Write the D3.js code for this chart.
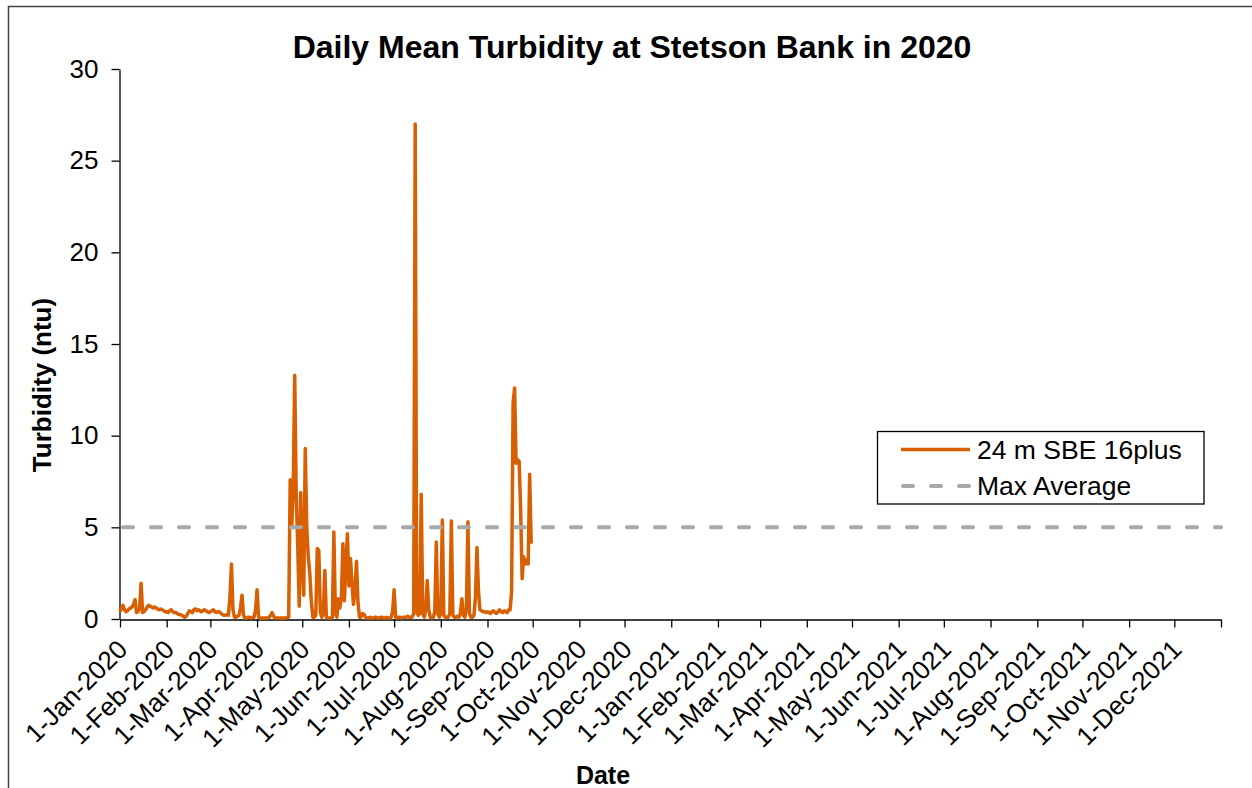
<!DOCTYPE html>
<html>
<head>
<meta charset="utf-8">
<script src="https://cdn.jsdelivr.net/npm/d3@7"></script>
<style>
  html, body { margin: 0; padding: 0; background: #ffffff; }
  svg { display: block; font-family: "Liberation Sans", Arial, sans-serif; }
</style>
</head>
<body>
<script>
// ---------------- DATA ----------------
const chartTitle = "Daily Mean Turbidity at Stetson Bank in 2020";
const yTitle = "Turbidity (ntu)";
const xTitle = "Date";
const seriesNames = ["24 m SBE 16plus", "Max Average"];
const seriesStart = "2020-01-01"; // first daily value
// Daily mean turbidity (ntu), 1-Jan-2020 .. 30-Sep-2020
const turbidityJan = [0.4,0.6,0.75,0.5,0.4,0.45,0.55,0.6,0.65,0.8,1.05,0.35,0.4,0.6,1.95,0.35,0.4,0.5,0.65,0.75,0.7,0.65,0.6,0.65,0.6,0.55,0.5,0.55,0.5,0.45,0.4];
const turbidityFeb = [0.4,0.35,0.45,0.5,0.4,0.35,0.35,0.3,0.25,0.25,0.2,0.15,0.1,0.15,0.3,0.45,0.4,0.35,0.5,0.55,0.45,0.5,0.45,0.4,0.45,0.5,0.45,0.4,0.35];
const turbidityMar = [0.4,0.45,0.5,0.4,0.35,0.4,0.4,0.3,0.25,0.2,0.2,0.25,0.2,1.2,3.0,0.5,0.1,0.1,0.15,0.2,0.6,1.3,0.2,0.05,0.05,0.1,0.1,0.05,0.1,0.1,0.5];
const turbidityApr = [1.6,0.1,0.05,0.05,0.05,0.05,0.05,0.05,0.1,0.2,0.35,0.15,0.05,0.05,0.05,0.05,0.05,0.05,0.05,0.05,0.1,0.1,7.6,5.0,7.0,13.3,6.8,4.0,0.7,6.9];
const turbidityMay = [3.0,1.3,9.3,5.0,3.4,2.5,1.0,0.1,0.1,0.2,3.85,3.75,0.4,0.1,0.3,2.65,0.1,0.05,0.05,0.05,0.1,4.75,0.3,0.1,1.1,0.6,1.2,4.1,1.0,3.0,4.65];
const turbidityJun = [1.8,3.3,2.0,0.8,1.5,3.15,0.9,0.1,0.1,0.3,0.25,0.1,0.05,0.05,0.1,0.05,0.05,0.1,0.1,0.05,0.05,0.1,0.1,0.05,0.05,0.1,0.05,0.05,0.1,0.4];
const turbidityJul = [1.6,0.1,0.05,0.1,0.1,0.05,0.1,0.1,0.1,0.15,0.1,0.1,0.1,0.3,27.0,0.4,0.2,0.3,6.8,0.3,0.1,0.5,2.1,0.5,0.1,0.05,0.1,0.4,4.2,0.3,0.1];
const turbidityAug = [0.3,5.4,0.2,0.1,0.1,0.1,0.3,5.35,0.2,0.1,0.1,0.15,0.1,0.3,1.1,0.2,0.1,0.6,5.3,0.3,0.1,0.1,0.2,1.2,3.9,1.5,0.5,0.45,0.4,0.4,0.35];
const turbiditySep = [0.4,0.35,0.3,0.4,0.45,0.35,0.3,0.4,0.5,0.4,0.35,0.45,0.4,0.35,0.5,0.5,1.5,11.8,12.6,8.5,8.7,8.6,6.0,2.2,3.4,3.0,3.2,3.0,7.9,4.1];
const maxAverage = 5;
const yTicks = [0, 5, 10, 15, 20, 25, 30];
const xDomain = ["2020-01-01", "2022-01-01"];
const xTickLabels = ["1-Jan-2020","1-Feb-2020","1-Mar-2020","1-Apr-2020","1-May-2020","1-Jun-2020","1-Jul-2020","1-Aug-2020","1-Sep-2020","1-Oct-2020","1-Nov-2020","1-Dec-2020","1-Jan-2021","1-Feb-2021","1-Mar-2021","1-Apr-2021","1-May-2021","1-Jun-2021","1-Jul-2021","1-Aug-2021","1-Sep-2021","1-Oct-2021","1-Nov-2021","1-Dec-2021",""];

// ---------------- CHART ----------------
const W = 1252, H = 788;
const FONT = '"Liberation Sans", Arial, sans-serif';
const ORANGE = "#d85f02";
const GRAY = "#a8a8a8";

const parse = d3.utcParse("%Y-%m-%d");
const values = [].concat(turbidityJan, turbidityFeb, turbidityMar, turbidityApr, turbidityMay,
                         turbidityJun, turbidityJul, turbidityAug, turbiditySep);
const start = parse(seriesStart);
const data = values.map((v, i) => ({ date: d3.utcDay.offset(start, i), value: v }));

const svg = d3.select("body").append("svg").attr("width", W).attr("height", H);

// outer frame
svg.append("rect").attr("x", 8.5).attr("y", 6.5).attr("width", 1300).attr("height", 900)
  .attr("fill", "#fff").attr("stroke", "#444").attr("stroke-width", 1.5);

const x = d3.scaleUtc().domain(xDomain.map(parse)).range([120, 1221]);
const y = d3.scaleLinear().domain([0, 30]).range([619, 69]);

// title
svg.append("text").attr("x", 632).attr("y", 58).attr("text-anchor", "middle")
  .attr("font-size", 32).attr("font-weight", "bold").attr("fill", "#000").text(chartTitle);

// y axis
const yAxis = svg.append("g").attr("transform", "translate(119.5,0)")
  .call(d3.axisLeft(y).tickValues(yTicks).tickSize(8).tickSizeOuter(0).tickPadding(13));
yAxis.selectAll("text").attr("font-size", 26).attr("font-family", FONT).attr("fill", "#000");
yAxis.selectAll("line, path").attr("stroke", "#000").attr("stroke-width", 1.3);

// x axis
const xTickDates = d3.utcMonth.range(parse(xDomain[0]), d3.utcDay.offset(parse(xDomain[1]), 1));
const xAxis = svg.append("g").attr("transform", "translate(0,619.5)")
  .call(d3.axisBottom(x).tickValues(xTickDates).tickSize(8).tickSizeOuter(0)
    .tickFormat((d, i) => xTickLabels[i]));
xAxis.selectAll("line, path").attr("stroke", "#000").attr("stroke-width", 1.3);
xAxis.selectAll("text")
  .attr("font-size", 26).attr("font-family", FONT).attr("fill", "#000")
  .attr("text-anchor", "end").attr("x", 0).attr("y", 0).attr("dy", "0.35em")
  .attr("transform", "translate(2,25) rotate(-45)");

// axis titles
svg.append("text").attr("transform", "translate(51,385) rotate(-90)").attr("text-anchor", "middle")
  .attr("font-size", 26).attr("font-weight", "bold").text(yTitle);
svg.append("text").attr("x", 603).attr("y", 784).attr("text-anchor", "middle")
  .attr("font-size", 25).attr("font-weight", "bold").text(xTitle);

// data line
const line = d3.line().x(d => x(d.date)).y(d => y(d.value));
svg.append("path").datum(data).attr("d", line).attr("fill", "none")
  .attr("stroke", ORANGE).attr("stroke-width", 3.5).attr("stroke-linejoin", "round");

// max average line
svg.append("line").attr("x1", x.range()[0]).attr("x2", x.range()[1])
  .attr("y1", y(maxAverage)).attr("y2", y(maxAverage))
  .attr("stroke", GRAY).attr("stroke-width", 4).attr("stroke-dasharray", "10,18")
  .attr("stroke-linecap", "round").attr("stroke-dashoffset", -3);

// legend
const lg = svg.append("g");
lg.append("rect").attr("x", 877.5).attr("y", 431.5).attr("width", 326.5).attr("height", 72.5)
  .attr("fill", "#fff").attr("stroke", "#000").attr("stroke-width", 1.3);
lg.append("line").attr("x1", 901).attr("x2", 970).attr("y1", 449.5).attr("y2", 449.5)
  .attr("stroke", ORANGE).attr("stroke-width", 3.5);
lg.append("line").attr("x1", 903).attr("x2", 970).attr("y1", 486).attr("y2", 486)
  .attr("stroke", GRAY).attr("stroke-width", 4).attr("stroke-dasharray", "10,18")
  .attr("stroke-linecap", "round");
lg.append("text").attr("x", 977).attr("y", 449.5).attr("dy", "0.35em")
  .attr("font-size", 26.5).text(seriesNames[0]);
lg.append("text").attr("x", 977).attr("y", 486).attr("dy", "0.35em")
  .attr("font-size", 26.5).text(seriesNames[1]);
</script>
</body>
</html>
